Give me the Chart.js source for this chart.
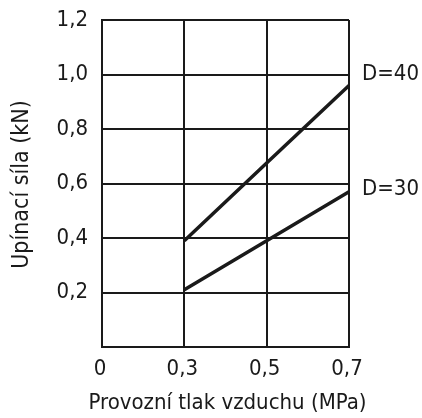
<!DOCTYPE html>
<html>
<head>
<meta charset="utf-8">
<script src="https://cdn.jsdelivr.net/npm/chart.js@4"></script>
<style>
html,body{margin:0;padding:0;background:#fff;}
#wrap{width:422px;height:418px;}
</style>
</head>
<body>
<div id="wrap"><canvas id="c" width="422" height="418"></canvas></div>
<script>
const xTickLabels = ['0', '0,3', '0,5', '0,7'];
const seriesNames = ['D=40', 'D=30'];
const xPoints = ['0,3', '0,5', '0,7'];
const d40 = [0.39, 0.675, 0.96];
const d30 = [0.21, 0.39, 0.57];
const labelValues = [1.0, 0.58];
const yTitle = 'Upínací síla (kN)';
const xTitle = 'Provozní tlak vzduchu (MPa)';

const FONT = "'DejaVu Sans Condensed', 'Liberation Sans Narrow', sans-serif";
const INK = '#1a1a1a';
const TICK_FS = 22;
const XTITLE_FS = 22;
const YTITLE_FS = 23;
const LABEL_FS = 22;

const customText = {
  id: 'customText',
  afterDraw(chart) {
    const ctx = chart.ctx;
    const xs = chart.scales.x, ys = chart.scales.y;
    const ca = chart.chartArea;
    ctx.save();
    ctx.fillStyle = INK;
    // series end labels
    ctx.font = LABEL_FS + 'px ' + FONT;
    ctx.textAlign = 'left';
    ctx.textBaseline = 'middle';
    seriesNames.forEach((n, i) => {
      ctx.fillText(n, xs.right + 13, ys.getPixelForValue(labelValues[i]));
    });
    // x title
    ctx.font = XTITLE_FS + 'px ' + FONT;
    ctx.textAlign = 'center';
    ctx.fillText(xTitle, (ca.left + ca.right) / 2 + 2, 403);
    // y title
    ctx.font = YTITLE_FS + 'px ' + FONT;
    ctx.translate(22, (ca.top + ca.bottom) / 2 + 1);
    ctx.rotate(-Math.PI / 2);
    ctx.fillText(yTitle, 0, 0);
    ctx.restore();
  }
};

const mk = (vals) => xPoints.map((x, i) => ({x: x, y: vals[i]}));

new Chart(document.getElementById('c'), {
  type: 'line',
  data: {
    labels: xTickLabels,
    datasets: [
      {label: seriesNames[0], data: mk(d40), borderColor: INK, borderWidth: 3.5, pointRadius: 0, fill: false, tension: 0},
      {label: seriesNames[1], data: mk(d30), borderColor: INK, borderWidth: 3.5, pointRadius: 0, fill: false, tension: 0}
    ]
  },
  options: {
    responsive: false,
    animation: false,
    devicePixelRatio: 1,
    layout: {padding: {top: 20, right: 73, left: 0, bottom: 0}},
    plugins: {legend: {display: false}, tooltip: {enabled: false}},
    scales: {
      x: {
        type: 'category',
        offset: false,
        grid: {color: INK, lineWidth: 2, drawTicks: false},
        border: {color: INK, width: 2},
        ticks: {color: INK, font: {family: FONT, size: TICK_FS, lineHeight: 1}, padding: 11, labelOffset: -2, maxRotation: 0, autoSkip: false},
        afterFit(s) { s.height = 71; }
      },
      y: {
        min: 0, max: 1.2,
        grid: {color: INK, lineWidth: 2, drawTicks: false},
        border: {color: INK, width: 2},
        ticks: {
          stepSize: 0.2, color: INK, font: {family: FONT, size: TICK_FS, lineHeight: 0.5}, padding: 14,
          callback: (v) => v === 0 ? '' : v.toFixed(1).replace('.', ',')
        },
        afterFit(s) { s.width = 102; }
      }
    }
  },
  plugins: [customText]
});
</script>
</body>
</html>
